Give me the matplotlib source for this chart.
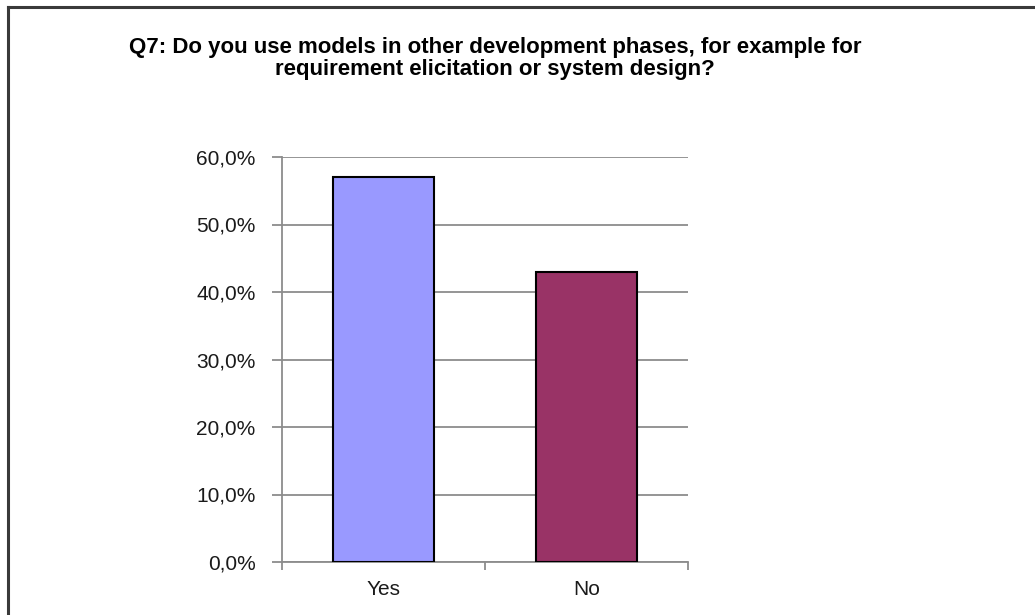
import matplotlib
matplotlib.use("Agg")
import matplotlib.pyplot as plt
from matplotlib.lines import Line2D
from matplotlib.ticker import FuncFormatter

# Survey answers for Q7
answers = ["Yes", "No"]
shares = [0.571, 0.429]
bar_colors = ["#9999FF", "#993366"]
y_ticks = [0.0, 0.1, 0.2, 0.3, 0.4, 0.5, 0.6]
title_lines = ["Q7: Do you use models in other development phases, for example for",
               "requirement elicitation or system design?"]

W, H = 1035, 615
fig = plt.figure(figsize=(W / 100, H / 100), dpi=100)
ax = fig.add_axes([282 / W, 1 - 562 / H, (688 - 282) / W, (562 - 157) / H])

x = range(len(answers))
ax.bar(x, shares, width=0.5, color=bar_colors, edgecolor="black", linewidth=1.5, zorder=3)

ax.set_xlim(-0.5, len(answers) - 0.5)
ax.set_ylim(0, 0.6)
ax.set_yticks(y_ticks)
ax.yaxis.set_major_formatter(FuncFormatter(lambda v, _: f"{v*100:.1f}%".replace(".", ",")))
ax.grid(axis="y", color="#8c8c8c", linewidth=1.3, zorder=0)

# category labels sit between boundary ticks
ax.set_xticks([i - 0.5 for i in range(len(answers) + 1)])
ax.set_xticklabels([])
ax.set_xticks(list(x), minor=True)
ax.set_xticklabels(answers, minor=True)
ax.tick_params(axis="x", which="minor", length=0, pad=13)
ax.tick_params(axis="x", which="major", length=6, width=1.3, color="#8c8c8c")
ax.tick_params(axis="y", length=7, width=1.3, color="#8c8c8c", pad=12)
for lab in ax.get_xticklabels(minor=True) + ax.get_yticklabels():
    lab.set_fontfamily("Liberation Sans")
    lab.set_fontsize(15)
    lab.set_color("#1a1a1a")

for side in ["top", "right"]:
    ax.spines[side].set_visible(False)
for side in ["left", "bottom"]:
    ax.spines[side].set_color("#8c8c8c")
    ax.spines[side].set_linewidth(1.3)

# two-line bold title, placed by baseline
for line, base in zip(title_lines, [53, 75]):
    fig.text(495 / W, 1 - base / H, line, ha="center", va="baseline",
             fontfamily="Liberation Sans", fontweight="bold", fontsize=16,
             color="black")

# chart frame along the top and left edges
fig.add_artist(Line2D([8 / W, 1], [1 - 7 / H, 1 - 7 / H], color="#3a3a3a", linewidth=2.2))
fig.add_artist(Line2D([8 / W, 8 / W], [0, 1 - 7 / H], color="#3a3a3a", linewidth=2.2))

fig.savefig("out.png", dpi=100, facecolor="white")
